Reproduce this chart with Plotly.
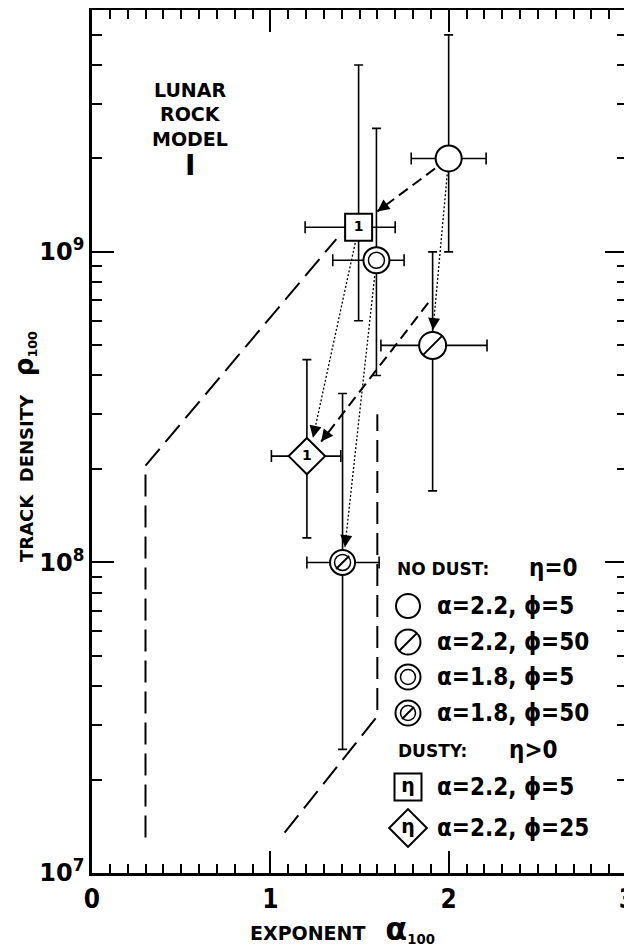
import math
import plotly.graph_objects as go

# ---------------- data ----------------
series_names = ["NO DUST α=2.2 ϕ=5", "NO DUST α=2.2 ϕ=50", "NO DUST α=1.8 ϕ=5",
                "NO DUST α=1.8 ϕ=50", "DUSTY α=2.2 ϕ=5", "DUSTY α=2.2 ϕ=25"]
alpha_vals = [2.2, 2.2, 1.8, 1.8, 2.2, 2.2]
phi_vals = [5, 50, 5, 50, 5, 25]
x_center = [2.0, 1.91, 1.595, 1.405, 1.495, 1.205]
x_low = [1.79, 1.62, 1.35, 1.205, 1.195, 1.006]
x_high = [2.21, 2.215, 1.75, 1.61, 1.70, 1.395]
y_center = [2.0e9, 5.0e8, 9.4e8, 1.0e8, 1.2e9, 2.2e8]
y_low = [1.0e9, 1.7e8, 4.0e8, 2.5e7, 6.0e8, 1.2e8]
y_high = [5.0e9, 1.0e9, 2.5e9, 3.5e8, 4.0e9, 4.5e8]
eta_label = ["", "", "", "", "1", "1"]

# envelope (long-dash) lines
env_left_x = [0.3, 0.3, 1.37]
env_left_y = [1.3e7, 2.05e8, 1.1e9]
env_right_x = [1.08, 1.6, 1.6]
env_right_y = [1.35e7, 3.2e7, 3.0e8]

# dashed arrows (start -> tip)
dash_arrows = [((2.0, 2.0e9), (1.6, 1.35e9)),
               ((1.885, 6.85e8), (1.285, 2.45e8))]
# dotted arrows (start -> tip)
dot_arrows = [((2.0, 2.0e9), (1.912, 5.6e8)),
              ((1.495, 1.2e9), (1.239, 2.52e8)),
              ((1.595, 9.4e8), (1.418, 1.12e8))]

x_ticks = [0, 1, 2, 3]
y_ticks = [1e7, 1e8, 1e9]
y_tick_text = ["10<sup>7</sup>", "10<sup>8</sup>", "10<sup>9</sup>"]

# ---------------- layout geometry ----------------
OFF = 8                      # page body margin of the html page
W, H = 632 - OFF, 950 - OFF
FL, FR, FT, FB = 92, 627, 10, 873      # frame in window pixels
L, R, T, B = FL - OFF, (W + OFF) - FR, FT - OFF, (H + OFF) - FB
X_RANGE = [0, 3]
Y_RANGE = [7, 9.779]
PW, PH = FR - FL, FB - FT

COND = "DejaVu Sans Condensed, DejaVu Sans, sans-serif"
BOLDF = "DejaVu Sans, sans-serif"


def to_px(x, y):
    px = FL + (x - X_RANGE[0]) / (X_RANGE[1] - X_RANGE[0]) * PW
    py = FB - (math.log10(y) - Y_RANGE[0]) / (Y_RANGE[1] - Y_RANGE[0]) * PH
    return px, py


def paper(px, py):
    return (px - FL) / PW, (FB - py) / PH


fig = go.Figure()

# envelopes
for xs, ys in [(env_left_x, env_left_y), (env_right_x, env_right_y)]:
    fig.add_trace(go.Scatter(x=xs, y=ys, mode="lines",
                             line=dict(color="black", width=2, dash="22px,9px"),
                             showlegend=False, hoverinfo="skip"))

# arrows: lines
arrow_anns = []
for arrows, dash, wdt in [(dash_arrows, "11px,6px", 2), (dot_arrows, "2px,2px", 1.3)]:
    for (s, t) in arrows:
        fig.add_trace(go.Scatter(x=[s[0], t[0]], y=[s[1], t[1]], mode="lines",
                                 line=dict(color="black", width=wdt, dash=dash),
                                 showlegend=False, hoverinfo="skip"))
        sp = to_px(*s)
        tp = to_px(*t)
        dx, dy = sp[0] - tp[0], sp[1] - tp[1]
        n = math.hypot(dx, dy)
        arrow_anns.append(dict(x=t[0], y=math.log10(t[1]), xref="x", yref="y",
                               ax=dx / n * 11, ay=dy / n * 11, axref="pixel", ayref="pixel",
                               showarrow=True, arrowhead=2, arrowsize=1.6,
                               arrowwidth=1.5, arrowcolor="black", text="", standoff=0))

# data points with error bars
marker_style = [
    dict(symbol="circle", size=26),
    dict(symbol="circle", size=27),
    dict(symbol="circle", size=26),
    dict(symbol="circle", size=25),
    dict(symbol="square", size=27),
    dict(symbol="diamond", size=28),
]
for i in range(len(x_center)):
    fig.add_trace(go.Scatter(
        x=[x_center[i]], y=[y_center[i]], mode="markers", name=series_names[i],
        marker=dict(symbol=marker_style[i]["symbol"], size=marker_style[i]["size"],
                    color="white", line=dict(color="black", width=2)),
        error_x=dict(type="data", symmetric=False,
                     array=[x_high[i] - x_center[i]], arrayminus=[x_center[i] - x_low[i]],
                     color="black", thickness=1.6, width=6),
        error_y=dict(type="data", symmetric=False,
                     array=[y_high[i] - y_center[i]], arrayminus=[y_center[i] - y_low[i]],
                     color="black", thickness=1.6, width=4.5),
        showlegend=False, hoverinfo="skip"))
    if i in (2, 3):
        fig.add_trace(go.Scatter(x=[x_center[i]], y=[y_center[i]], mode="markers",
                                 marker=dict(symbol="circle-open", size=16,
                                             color="black", line=dict(color="black", width=1.5)),
                                 showlegend=False, hoverinfo="skip"))
    if i in (1, 3):
        fig.add_trace(go.Scatter(x=[x_center[i]], y=[y_center[i]], mode="markers",
                                 marker=dict(symbol="line-ne", size=19 if i == 1 else 13,
                                             color="black", line=dict(color="black", width=2)),
                                 showlegend=False, hoverinfo="skip"))
    if eta_label[i]:
        fig.add_trace(go.Scatter(x=[x_center[i]], y=[y_center[i]], mode="text",
                                 text=[eta_label[i]],
                                 textfont=dict(family=BOLDF, size=14, color="black", weight="bold"),
                                 showlegend=False, hoverinfo="skip"))

# ---------------- custom legend (on hidden overlay axes, paper-like units) ----------------
leg_rows_py = [606, 642, 677, 713, 787, 828]
leg_sym_px = 408
leg_text_px = 435
for i in range(6):
    lx, ly = paper(leg_sym_px, leg_rows_py[i])
    sym = marker_style[i]["symbol"]
    size = {0: 24, 1: 25, 2: 25, 3: 25, 4: 27, 5: 29}[i]
    fig.add_trace(go.Scatter(x=[lx], y=[ly], mode="markers", xaxis="x2", yaxis="y2",
                             marker=dict(symbol=sym, size=size, color="white",
                                         line=dict(color="black", width=2)),
                             showlegend=False, hoverinfo="skip"))
    if i in (2, 3):
        fig.add_trace(go.Scatter(x=[lx], y=[ly], mode="markers", xaxis="x2", yaxis="y2",
                                 marker=dict(symbol="circle-open", size=15, color="black",
                                             line=dict(color="black", width=1.5)),
                                 showlegend=False, hoverinfo="skip"))
    if i in (1, 3):
        fig.add_trace(go.Scatter(x=[lx], y=[ly], mode="markers", xaxis="x2", yaxis="y2",
                                 marker=dict(symbol="line-ne", size=17 if i == 1 else 12,
                                             color="black", line=dict(color="black", width=2)),
                                 showlegend=False, hoverinfo="skip"))
    if i in (4, 5):
        fig.add_trace(go.Scatter(x=[lx], y=[ly], mode="text", xaxis="x2", yaxis="y2",
                                 text=["η"],
                                 textfont=dict(family=BOLDF, size=19, color="black", weight="bold"),
                                 showlegend=False, hoverinfo="skip"))

annotations = list(arrow_anns)


def ann(text, px, py, size, family=COND, xanchor="left", angle=0, yanchor="middle"):
    ax_, ay_ = paper(px, py)
    annotations.append(dict(text=text, x=ax_, y=ay_, xref="paper", yref="paper",
                            xanchor=xanchor, yanchor=yanchor, showarrow=False, textangle=angle,
                            font=dict(family=family, size=size, color="black", weight="bold")))


for i in range(6):
    ann(f"α={alpha_vals[i]}, ϕ={phi_vals[i]}", leg_text_px, leg_rows_py[i], 24)
ann("NO DUST:", 395, 569, 17, family=BOLDF)
ann("η=0", 527, 568, 24)
ann("DUSTY:", 396, 751, 17, family=BOLDF)
ann("η>0", 507, 750, 24)

# "LUNAR ROCK MODEL I"
ann("LUNAR", 190, 90, 19, family=BOLDF, xanchor="center")
ann("ROCK", 190, 114, 19, family=BOLDF, xanchor="center")
ann("MODEL", 190, 139, 19, family=BOLDF, xanchor="center")
ann("I", 190, 165, 28, family=BOLDF, xanchor="center")

# axis titles
ann("TRACK  DENSITY   <span style='font-size:26px'>ρ</span><sub>100</sub>", 25, 447, 18,
    family=BOLDF, xanchor="center", angle=-90)
ann("EXPONENT   <span style='font-size:32px'>α</span><sub>100</sub>", 248, 929, 19,
    family=BOLDF)

fig.update_layout(
    width=W, height=H,
    margin=dict(l=L, r=R, t=T, b=B, autoexpand=False),
    paper_bgcolor="white", plot_bgcolor="white",
    showlegend=False,
    annotations=annotations,
    xaxis=dict(range=X_RANGE, showgrid=False, zeroline=False, automargin=False,
               showline=True, linecolor="black", linewidth=2.5, mirror="allticks",
               ticks="inside", ticklen=22, tickwidth=2, tickcolor="black",
               tickmode="array", tickvals=x_ticks, ticktext=[str(v) for v in x_ticks],
               tickfont=dict(family=COND, size=26, color="black", weight="bold"),
               ticklabelstandoff=1, ticklabeloverflow="allow",
               minor=dict(ticks="inside", ticklen=9, tickwidth=1.8, tickcolor="black",
                          tickvals=[i / 10 for i in range(31)])),
    yaxis=dict(type="log", range=Y_RANGE, showgrid=False, zeroline=False, automargin=False,
               showline=True, linecolor="black", linewidth=2.5, mirror="allticks",
               ticks="inside", ticklen=22, tickwidth=2, tickcolor="black",
               tickmode="array", tickvals=y_ticks, ticktext=y_tick_text,
               tickfont=dict(family=BOLDF, size=24, color="black", weight="bold"),
               minor=dict(ticks="inside", ticklen=10, tickwidth=1.8, tickcolor="black",
                          tickvals=[d * 10 ** e for e in (7, 8, 9) for d in range(2, 10)])),
    xaxis2=dict(overlaying="x", range=[0, 1], visible=False, anchor="y2", automargin=False),
    yaxis2=dict(overlaying="y", range=[0, 1], visible=False, anchor="x2", automargin=False),
)

fig.write_html("out.html")
